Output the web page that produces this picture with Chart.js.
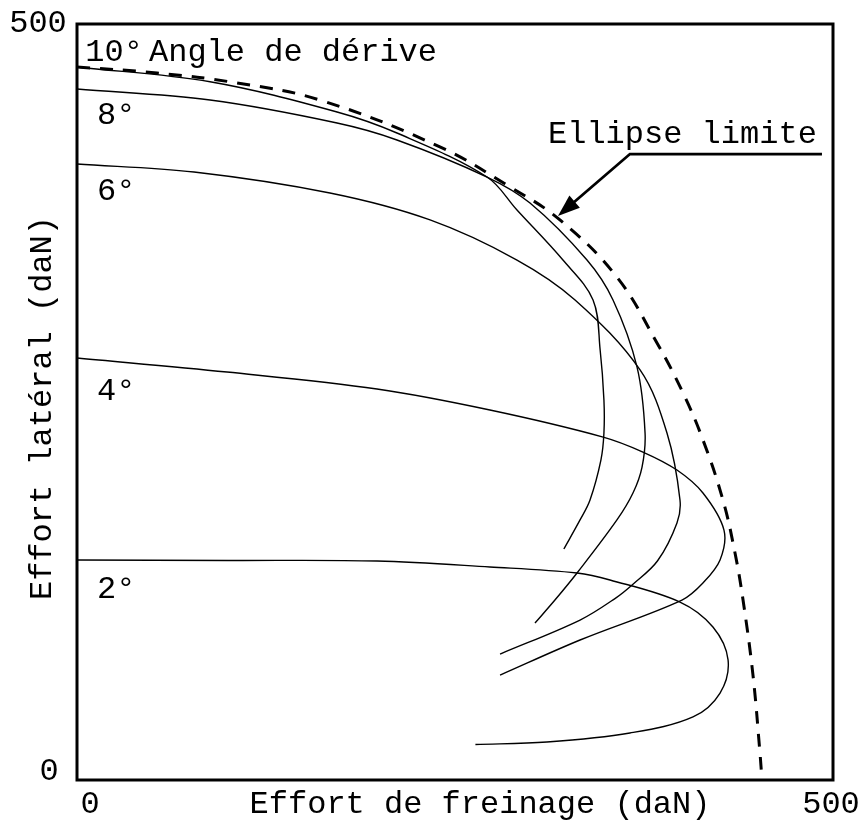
<!DOCTYPE html>
<html>
<head>
<meta charset="utf-8">
<script src="https://cdn.jsdelivr.net/npm/chart.js@4"></script>
<style>
  body { margin: 0; background: #fff; }
</style>
</head>
<body>
<canvas id="tireChart" width="861" height="821"></canvas>
<script>
// axis ticks (daN)
const xTicks = [0, 500];
const yTicks = [0, 500];

// [effort de freinage, effort latéral]
const ellipse = [[0,471.6],[52.9,467.6],[105.8,461],[160.7,449.7],[240,418.7],[286.4,392.2],[319.4,370.4],
    [357,332.7],[383.6,289],[400.8,256],[414,224.9],[427.2,185.2],[435.2,150.1],[440.5,119],[447,70],[451.7,17.9],[453,0]];
const drift10 = [[0,471.6],[88,461.8],[172,441.8],[211.6,427.9],[271.2,398.8],[291,377],[321.4,343.9],
    [341.3,317.5],[346,284.4],[348.5,251.3],[348.5,229.5],[346.5,211.6],[339.3,185.2],[332.7,172],[322,152.8]];
const drift8 = [[0,457],[88,449.7],[172,434.5],[211.6,423.3],[271.2,398.8],[299.6,381.6],[337.3,343.9],
    [354.5,317.5],[370.4,273.1],[375.7,229.5],[373.7,207],[367.7,189.8],[357.1,172],[330.7,136.9],[316.1,119],[302.9,103.8]];
const drift6 = [[0,407.4],[77.4,402.1],[167.3,388.2],[233.5,370.4],[291,343.9],[329.4,317.5],[372.4,271.2],[390.2,229.5],
    [398.8,185.2],[396.8,170],[384,145],[367.7,129.5],[355.8,120],[332.7,105.8],[279.8,83.3]];
const drift4 = [[0,279.1],[99.2,269.8],[198.4,258.6],[273.1,244.7],[348,226.8],[374.3,216.9],[396.8,205],
    [414,189.8],[427.9,165.3],[425.3,145.5],[414,130.3],[400.1,119],[332.7,92.6],[279.8,69.4]];
const drift2 = [[0,145.5],[100,145.2],[198.4,144.8],[273.1,140.9],[330.7,136.9],[352.5,132.3],[398.8,117.7],
    [420.6,101.2],[430.6,79.4],[425.3,57.5],[407.4,41.7],[365.7,31.1],[310.8,25.1],[263.5,23.5]];

const FONT = '32px "Liberation Mono", "DejaVu Sans Mono", monospace';

function toPoints(arr) {
    return arr.map(p => ({ x: p[0], y: p[1] }));
}

function curve(arr) {
    return {
        data: toPoints(arr),
        borderColor: '#000',
        borderWidth: 1.4,
        pointRadius: 0,
        tension: 0.35,
        fill: false
    };
}

// frame, labels and the arrow pointing at the limit ellipse
const decorations = {
    id: 'decorations',
    afterDatasetsDraw(chart) {
        const ctx = chart.ctx;
        const a = chart.chartArea;
        const sx = chart.scales.x, sy = chart.scales.y;
        const px = v => sx.getPixelForValue(v);
        const py = v => sy.getPixelForValue(v);

        ctx.save();
        ctx.strokeStyle = '#000';
        ctx.lineWidth = 3;
        ctx.strokeRect(a.left, a.top, a.right - a.left, a.bottom - a.top);

        ctx.fillStyle = '#000';
        ctx.font = FONT;
        ctx.textBaseline = 'alphabetic';

        // y tick labels
        ctx.textAlign = 'center';
        ctx.fillText(String(yTicks[1]), 38, py(yTicks[1]) + 8);
        ctx.fillText(String(yTicks[0]), 49, py(yTicks[0]));
        // x tick labels
        ctx.fillText(String(xTicks[0]), px(xTicks[0]) + 13, 813);
        ctx.fillText(String(xTicks[1]), px(xTicks[1]) - 2, 813);

        // axis titles
        ctx.fillText('Effort de freinage (daN)', 480, 813);
        ctx.save();
        ctx.translate(51, 408);
        ctx.rotate(-Math.PI / 2);
        ctx.fillText('Effort latéral (daN)', 0, 0);
        ctx.restore();

        // curve labels
        ctx.textAlign = 'left';
        ctx.fillText('10°', px(5.5), py(475.5));
        ctx.fillText('Angle de dérive', px(47.6), py(475.5));
        ctx.fillText('8°', px(13.2), py(433.9));
        ctx.fillText('6°', px(13.2), py(383.6));
        ctx.fillText('4°', px(13.2), py(251.3));
        ctx.fillText('2°', px(13.2), py(120.4));
        ctx.fillText('Ellipse limite', px(311.5), py(421.3));

        // leader line + arrow
        const x0 = px(492.7), y0 = py(414);
        const x1 = px(365.7), y1 = py(414);
        const x2 = px(318.1), y2 = py(373);
        const ang = Math.atan2(y2 - y1, x2 - x1);
        ctx.lineWidth = 2.8;
        ctx.beginPath();
        ctx.moveTo(x0, y0);
        ctx.lineTo(x1, y1);
        ctx.lineTo(x2 - 8 * Math.cos(ang), y2 - 8 * Math.sin(ang));
        ctx.stroke();
        const len = 22, half = 8;
        ctx.beginPath();
        ctx.moveTo(x2, y2);
        ctx.lineTo(x2 - len * Math.cos(ang) + half * Math.sin(ang), y2 - len * Math.sin(ang) - half * Math.cos(ang));
        ctx.lineTo(x2 - len * Math.cos(ang) - half * Math.sin(ang), y2 - len * Math.sin(ang) + half * Math.cos(ang));
        ctx.closePath();
        ctx.fill();
        ctx.restore();
    }
};

const ctx = document.getElementById('tireChart').getContext('2d');
const tireChart = new Chart(ctx, {
    type: 'line',
    data: {
        datasets: [
            {
                data: toPoints(ellipse),
                borderColor: '#000',
                borderWidth: 3,
                borderDash: [13, 10],
                pointRadius: 0,
                tension: 0.4,
                fill: false
            },
            curve(drift10),
            curve(drift8),
            curve(drift6),
            curve(drift4),
            curve(drift2)
        ]
    },
    options: {
        responsive: false,
        animation: false,
        layout: { padding: { left: 77, top: 24, right: 28, bottom: 41 } },
        plugins: {
            legend: { display: false },
            tooltip: { enabled: false }
        },
        scales: {
            x: { type: 'linear', min: 0, max: 500, display: false },
            y: { type: 'linear', min: 0, max: 500, display: false }
        }
    },
    plugins: [decorations]
});
</script>
</body>
</html>
